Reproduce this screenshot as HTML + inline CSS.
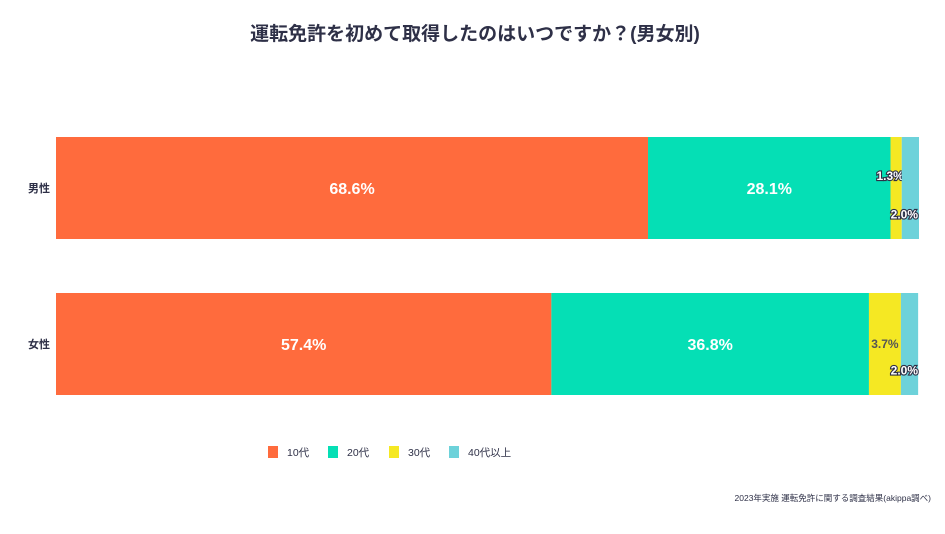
<!DOCTYPE html>
<html><head><meta charset="utf-8">
<style>
html,body{margin:0;padding:0;background:#fff;}
body{width:945px;height:529px;overflow:hidden;font-family:"Liberation Sans","Noto Sans CJK JP",sans-serif;}
</style></head>
<body>
<svg id="chart" width="945" height="529" xmlns="http://www.w3.org/2000/svg" style="font-family:'Liberation Sans','Noto Sans CJK JP',sans-serif">
<text x="475" y="40" text-anchor="middle" font-size="19" font-weight="bold" fill="#2e3047">運転免許を初めて取得したのはいつですか？(男女別)</text>
<g id="bars"></g>
<g id="legend"></g>
<text x="931" y="501" text-anchor="end" font-size="8.5" fill="#2e3047">2023年実施 運転免許に関する調査結果(akippa調べ)</text>
</svg>
<script>
const categories = ["男性", "女性"];
const seriesNames = ["10代", "20代", "30代", "40代以上"];
const s10 = [68.6, 57.4];
const s20 = [28.1, 36.8];
const s30 = [1.3, 3.7];
const s40 = [2.0, 2.0];
const colors = ["#ff6b3d", "#05dfb5", "#f5e823", "#6dd2da"];
const series = [s10, s20, s30, s40];
const X0 = 56, X1 = 919;
const xScale = v => X0 + (X1 - X0) * v / 100;
const rowTop = [137, 293], barH = 102;
const NS = "http://www.w3.org/2000/svg";
const g = document.getElementById("bars");
function mk(tag, attrs, parent){const e=document.createElementNS(NS,tag);for(const k in attrs)e.setAttribute(k,attrs[k]);parent.appendChild(e);return e;}
categories.forEach((cat, i) => {
  const top = rowTop[i];
  const lab = mk("text", {x: 50, y: top + barH/2 + 4, "text-anchor": "end", "font-size": 11, "font-weight": "bold", fill: "#2e3047"}, g);
  lab.textContent = cat;
  
  
  let cum = 0;
  series.forEach((s, j) => {
    const v = s[i];
    const x = xScale(cum), w = xScale(cum + v) - x;
    const r = mk("rect", {x: x, y: top, width: w, height: barH, fill: colors[j]}, g);
    
    
    const cx = x + w/2;
    let t;
    if (j < 2) {
      t = mk("text", {x: cx, y: top + barH/2 + 6, "text-anchor": "middle", "font-size": 16, "font-weight": "bold", fill: "#fff"}, g);
    } else if (j === 2) {
      const small = v < 2;
      t = mk("text", {x: cx - (small ? 6 : 0), y: top + (small ? barH*0.38 : barH*0.5) + 4, "text-anchor": "middle", "font-size": 12, "font-weight": "bold", fill: small ? "#fff" : "#555", stroke: small ? "#2e3047" : "none", "stroke-width": 2.2, "paint-order": "stroke"}, g);
    } else {
      t = mk("text", {x: 918, y: top + barH*0.76 + 4, "text-anchor": "end", "font-size": 12, "font-weight": "bold", fill: "#fff", stroke: "#2e3047", "stroke-width": 2.2, "paint-order": "stroke"}, g);
    }
    t.textContent = v.toFixed(1) + "%";
    
    
    cum += v;
  });
});
const lg = document.getElementById("legend");
const lx = [268, 328, 389, 449];
seriesNames.forEach((n, j) => {
  const r = mk("rect", {x: lx[j], y: 446, width: 10, height: 12, fill: colors[j]}, lg);
  
  
  const t = mk("text", {x: lx[j] + 19, y: 456, "font-size": 10.5, fill: "#2e3047"}, lg);
  t.textContent = n;
  
  
});
</script>
</body></html>
